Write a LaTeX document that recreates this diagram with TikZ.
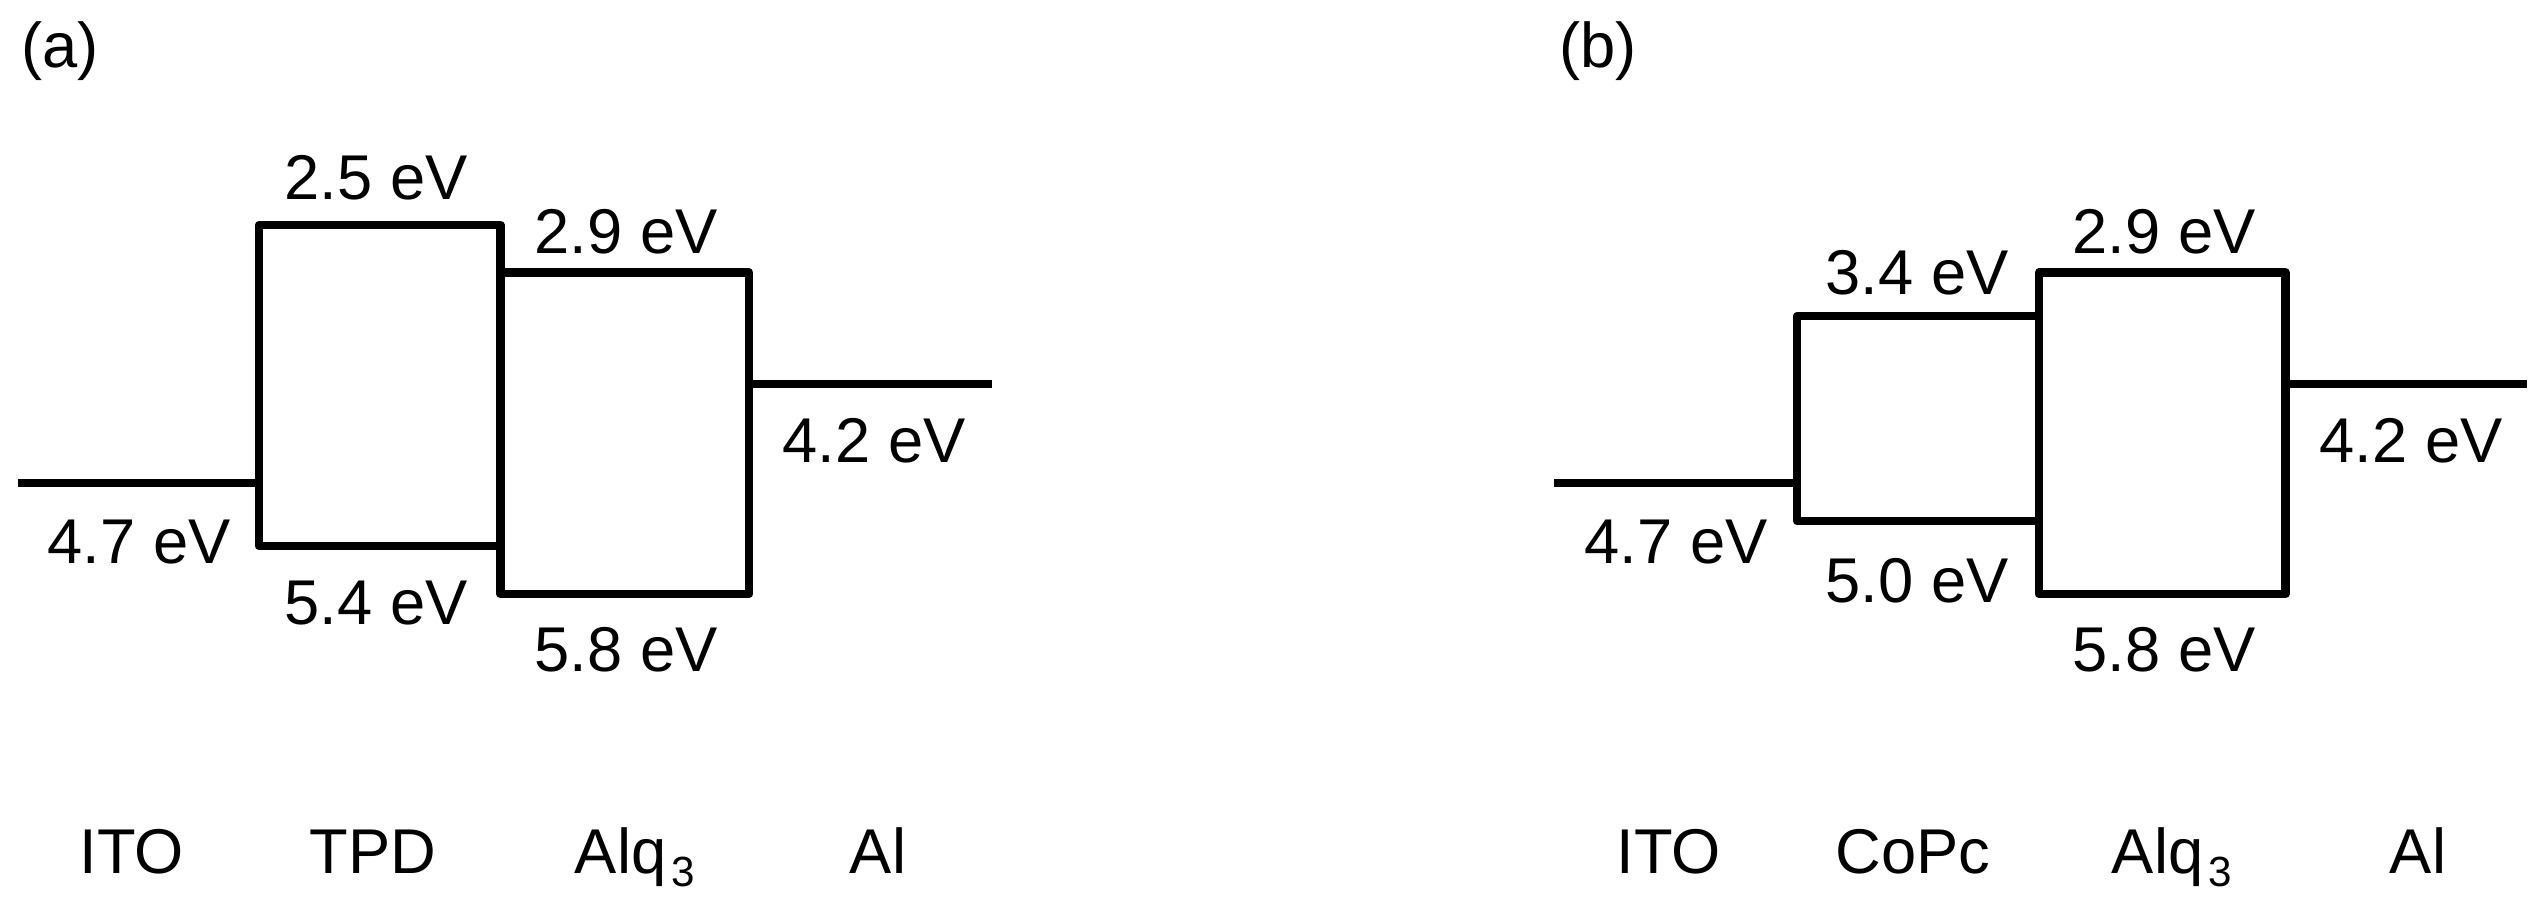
\documentclass[tikz,border=0pt]{standalone}
\usepackage{fontspec}
\setmainfont{Liberation Sans}
\usetikzlibrary{positioning}

\begin{document}
\begin{tikzpicture}[
        band/.style={line width=2.4pt, line join=round},
        ev/.style={font=\fontsize{18}{18}\selectfont, inner sep=0pt},
        layer/.style={ev, anchor=base}]
  \useasboundingbox (0,0) rectangle (25.41,9.02);

  % (a) ITO / TPD / Alq3 / Al
  \node[ev, anchor=base west] (tagA) at (0.21,8.35) {(a)};
  \coordinate (itoA) at (0.18,4.19);
  \coordinate (tpdAlo) at (2.59,3.56);
  \coordinate (tpdAhi) at (5.005,6.77);
  \coordinate (alqAlo) at (5.005,3.08);
  \coordinate (alqAhi) at (7.49,6.295);
  \coordinate (alA) at (9.92,5.18);
  \draw[band] (itoA) -- (itoA -| tpdAlo);
  \draw[band] (tpdAlo) rectangle (tpdAhi);
  \draw[band] (alqAlo) rectangle (alqAhi);
  \draw[band] (alqAhi |- alA) -- (alA);

  \node[ev] (evA1) at (3.76,7.24) {2.5 eV};
  \node[ev] (evA2) at (6.26,6.70) {2.9 eV};
  \node[ev] (evA3) at (8.74,4.61) {4.2 eV};
  \node[ev] (evA4) at (1.39,3.60) {4.7 eV};
  \node[ev] (evA5) at (3.76,2.99) {5.4 eV};
  \node[ev] (evA6) at (6.26,2.52) {5.8 eV};

  \node[layer] (itoAname) at (1.32,0.29) {ITO};
  \node[layer] (tpdAname) at (3.73,0.29) {TPD};
  \node[layer] (alqAname) at (6.35,0.29) {Alq\kern1.5pt\raisebox{-3.7pt}{\fontsize{12}{12}\selectfont 3}};
  \node[layer] (alAname) at (8.78,0.29) {Al};

  % (b) ITO / CoPc / Alq3 / Al
  \node[ev, anchor=base west] (tagB) at (15.59,8.35) {(b)};
  \coordinate (itoB) at (15.54,4.19);
  \coordinate (copcBlo) at (17.97,3.81);
  \coordinate (copcBhi) at (20.39,5.86);
  \coordinate (alqBlo) at (20.39,3.08);
  \coordinate (alqBhi) at (22.855,6.295);
  \coordinate (alB) at (25.27,5.18);
  \draw[band] (itoB) -- (itoB -| copcBlo);
  \draw[band] (copcBlo) rectangle (copcBhi);
  \draw[band] (alqBlo) rectangle (alqBhi);
  \draw[band] (alqBhi |- alB) -- (alB);

  \node[ev] (evB1) at (19.17,6.29) {3.4 eV};
  \node[ev] (evB2) at (21.64,6.70) {2.9 eV};
  \node[ev] (evB3) at (24.11,4.61) {4.2 eV};
  \node[ev] (evB4) at (16.76,3.60) {4.7 eV};
  \node[ev] (evB5) at (19.17,3.21) {5.0 eV};
  \node[ev] (evB6) at (21.64,2.52) {5.8 eV};

  \node[layer] (itoBname) at (16.69,0.29) {ITO};
  \node[layer] (copcBname) at (19.13,0.29) {CoPc};
  \node[layer] (alqBname) at (21.72,0.29) {Alq\kern1.5pt\raisebox{-3.7pt}{\fontsize{12}{12}\selectfont 3}};
  \node[layer] (alBname) at (24.18,0.29) {Al};
\end{tikzpicture}
\end{document}
